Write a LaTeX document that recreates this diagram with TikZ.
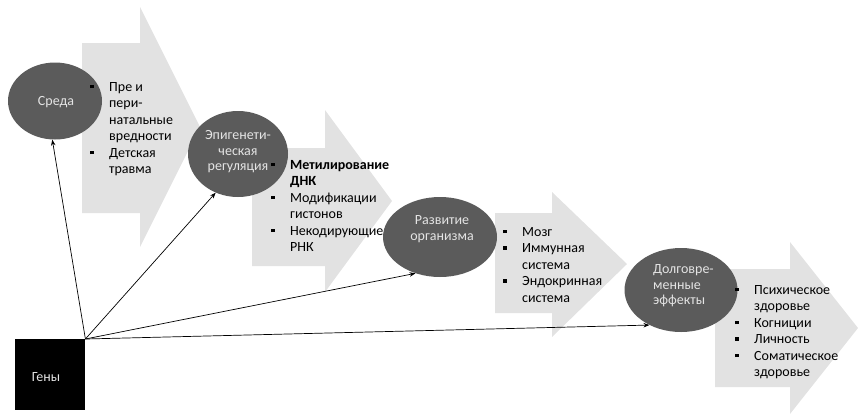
\documentclass[tikz,border=0pt]{standalone}
\usepackage{fontspec}
\setmainfont{Carlito}
\usetikzlibrary{shapes.geometric,arrows.meta}
\definecolor{arrowgrey}{HTML}{E2E2E2}
\definecolor{ellgrey}{HTML}{5B5B5B}
\definecolor{ltext}{HTML}{E4E4E4}
\newcommand{\bsq}{\makebox[19pt][l]{\rule[0.2em]{3.6pt}{3.6pt}}}
\tikzset{
  bigarrow/.style={fill=arrowgrey,draw=none},
  blob/.style={ellipse,fill=ellgrey,draw=none,inner sep=0pt},
  blobtext/.style={text=ltext,font=\fontsize{14}{15.5}\selectfont,inner sep=0pt},
  listtext/.style={anchor=base west,inner sep=0pt,font=\fontsize{14}{16.5}\selectfont},
  conn/.style={draw=black,line width=0.7pt,-{Stealth[length=6pt,width=4.5pt]}}
}
\begin{document}
\begin{tikzpicture}[x=1pt,y=-1pt]
\useasboundingbox (0,0) rectangle (858,413);
% big grey arrows
\fill[bigarrow] (82,43) -- (140,43) -- (140,7) -- (200,127) -- (140,247) -- (140,213) -- (82,213) -- cycle;
\fill[bigarrow] (252,148) -- (325,148) -- (325,110) -- (392,201) -- (325,292) -- (325,266) -- (252,266) -- cycle;
\fill[bigarrow] (495,213) -- (552,213) -- (552,192) -- (627,264) -- (552,337) -- (552,313) -- (495,313) -- cycle;
\fill[bigarrow] (715,269) -- (790,269) -- (790,242) -- (858,328) -- (790,414) -- (790,387) -- (715,387) -- cycle;
% ellipses
\node[blob,minimum width=94pt,minimum height=77pt] (sreda) at (55,101) {};
\node[blob,minimum width=100pt,minimum height=86pt] (epi) at (238,154) {};
\node[blob,minimum width=114pt,minimum height=80pt] (razv) at (440,237) {};
\node[blob,minimum width=113pt,minimum height=84pt] (dolg) at (681,290) {};
\node[blobtext] (sredat) at (56,102) {Среда};
\node[blobtext,align=center] (epit) at (238,152) {Эпигенети-\\ческая\\регуляция};
\node[blobtext,align=center] (razvt) at (442,229) {Развитие\\организма};
\node[blobtext,align=left,anchor=west] (dolgt) at (653,286) {Долговре-\\менные\\эффекты};
% genes box
\node[fill=black,minimum width=70pt,minimum height=71pt,inner sep=0pt,anchor=north west] (genes) at (15,339) {};
\node[blobtext] (genest) at (46,377) {Гены};
% lists
\node[listtext] (list1) at (90,91) {\begin{tabular}[t]{@{}l@{}l@{}}
\bsq & Пре и\\ & пери-\\ & натальные\\ & вредности\\ \bsq & Детская\\ & травма
\end{tabular}};
\node[listtext] (list2) at (271,169) {\begin{tabular}[t]{@{}l@{}l@{}}
\bsq & \textbf{Метилирование}\\ & \textbf{ДНК}\\ \bsq & Модификации\\ & гистонов\\ \bsq & Некодирующие\\ & РНК
\end{tabular}};
\node[listtext] (list3) at (503,236) {\begin{tabular}[t]{@{}l@{}l@{}}
\bsq & Мозг\\ \bsq & Иммунная\\ & система\\ \bsq & Эндокринная\\ & система
\end{tabular}};
\node[listtext] (list4) at (735,294) {\begin{tabular}[t]{@{}l@{}l@{}}
\bsq & Психическое\\ & здоровье\\ \bsq & Когниции\\ \bsq & Личность\\ \bsq & Соматическое\\ & здоровье
\end{tabular}};
% connectors
\draw[conn] (genes.north east) -- (sreda.266);
\draw[conn] (genes.north east) -- (epi.240);
\draw[conn] (genes.north east) -- (razv.236);
\draw[conn] (genes.north east) -- (dolg.228);
\end{tikzpicture}
\end{document}
